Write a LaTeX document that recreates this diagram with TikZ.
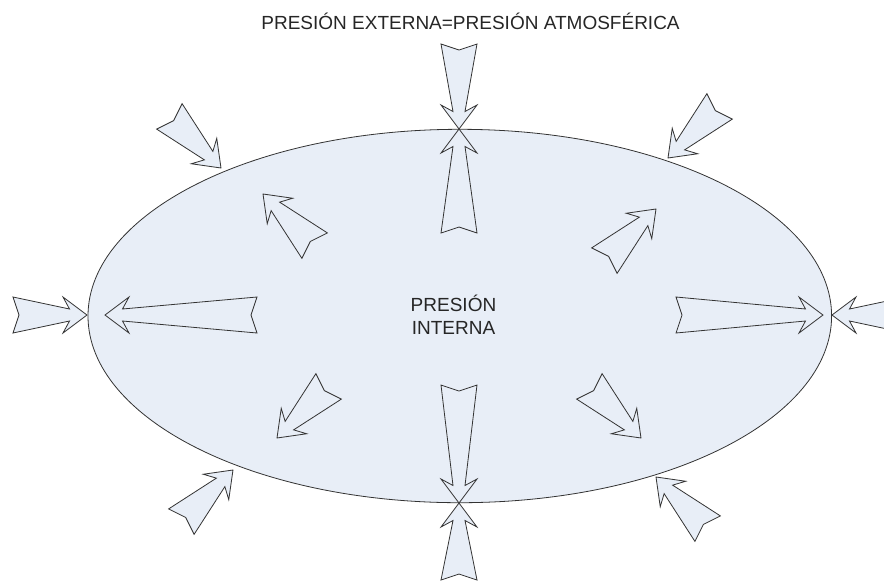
\documentclass[tikz,border=0pt]{standalone}
\usepackage{fontspec}
\setmainfont{Liberation Sans}
\usetikzlibrary{shapes.geometric}
\definecolor{vesselfill}{HTML}{E8EEF7}
\definecolor{inkline}{HTML}{333333}
\tikzset{
  arrowbody/.style={draw=inkline, fill=vesselfill, line width=0.8pt, line join=miter},
  % notched block arrow: tip at the origin, pointing along +x, total length #1
  pics/pressarrow/.style={code={
    \path[arrowbody] (0,0) -- (-24,18) -- (-17.5,6) -- (-#1,18) -- (-#1+6,0)
      -- (-#1,-18) -- (-17.5,-6) -- (-24,-18) -- cycle;
  }},
  label/.style={font=\fontsize{19}{23}\selectfont, text=black!85, align=center, inner sep=0pt}
}
\begin{document}
\begin{tikzpicture}[x=1pt, y=-1pt]
  \useasboundingbox (0,0) rectangle (884,582);
  \clip (0,0) rectangle (884,582);

  % the vessel
  \node[draw=inkline, fill=vesselfill, line width=0.8pt, ellipse, minimum width=743.6pt,
        minimum height=373.4pt, inner sep=0pt] (vessel) at (459.8,316) {};

  % tips on the vessel wall
  \coordinate (ntop) at (459,129);
  \coordinate (nbot) at (459,503);
  \coordinate (wleft) at (87,315);
  \coordinate (wright) at (832,315);

  % axis arrows: outside pressure pushing in, inside pressure pushing out
  \pic[rotate=-90] at (ntop) {pressarrow=85};
  \pic[rotate=90] at (ntop) {pressarrow=104};
  \pic[rotate=-90] at (nbot) {pressarrow=118};
  \pic[rotate=90] at (nbot) {pressarrow=77};
  \pic[rotate=0] at (wleft) {pressarrow=74};
  \pic[rotate=180] at (105,315) {pressarrow=152};
  \pic[rotate=0] at (823,315) {pressarrow=147};
  \pic[rotate=180] at (wright) {pressarrow=74};

  % diagonal arrows
  \pic[rotate=-45] at (221,168) {pressarrow=73};
  \pic[rotate=135] at (263,194) {pressarrow=73};
  \pic[rotate=45] at (656,209) {pressarrow=73};
  \pic[rotate=225] at (668,158) {pressarrow=73};
  \pic[rotate=225] at (277,438) {pressarrow=73};
  \pic[rotate=-45] at (641,438) {pressarrow=73};
  \pic[rotate=45] at (233,470) {pressarrow=73};
  \pic[rotate=135] at (656,477) {pressarrow=73};

  % labels
  \node[label, anchor=base] (outside) at (470.5,29.5) {PRESIÓN EXTERNA=PRESIÓN ATMOSFÉRICA};
  \node[label] (inside) at (453.5,315) {PRESIÓN\\INTERNA};
\end{tikzpicture}
\end{document}
